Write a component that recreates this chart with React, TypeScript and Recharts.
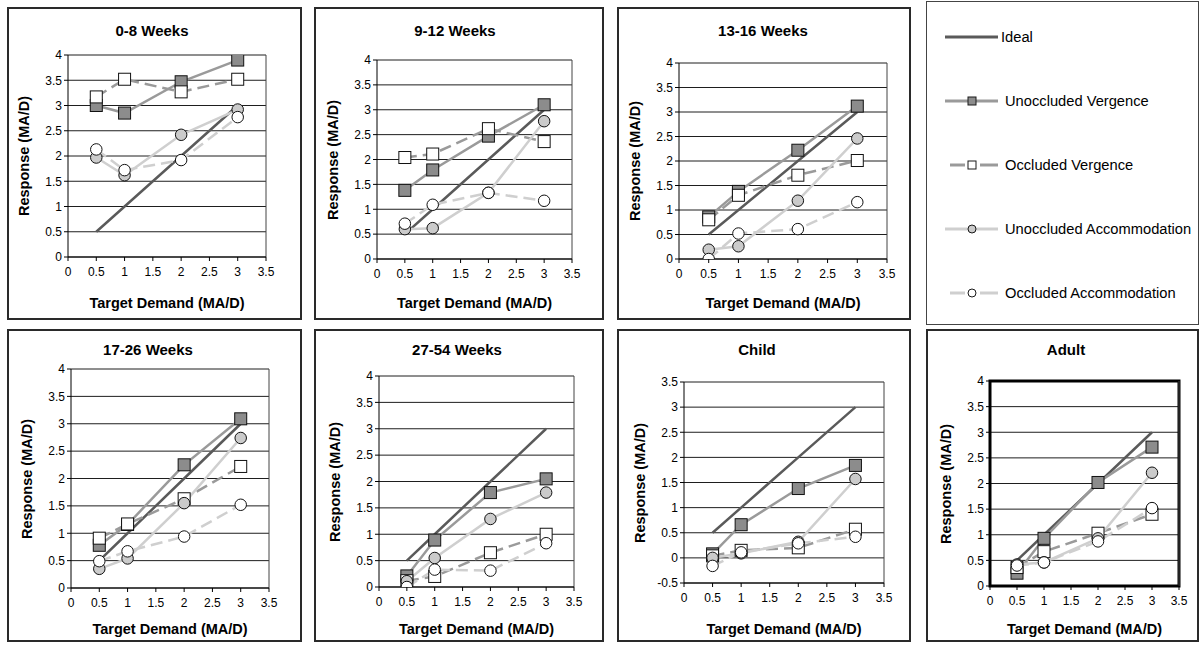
import React from 'react';
import { LineChart, Line, XAxis, YAxis, CartesianGrid, ReferenceLine, ReferenceArea } from 'recharts';

// ---------- data ----------
const demand = [0.5, 1, 2, 3];
const ideal = [0.5, 1, 2, 3];
const xTicks = [0, 0.5, 1, 1.5, 2, 2.5, 3, 3.5];
const yTicks = [0, 0.5, 1, 1.5, 2, 2.5, 3, 3.5, 4];
const yTicksChild = [-0.5, 0, 0.5, 1, 1.5, 2, 2.5, 3, 3.5];
const seriesNames = ['Ideal', 'Unoccluded Vergence', 'Occluded Vergence', 'Unoccluded Accommodation', 'Occluded Accommodation'];
const panelTitles = ['0-8 Weeks', '9-12 Weeks', '13-16 Weeks', '17-26 Weeks', '27-54 Weeks', 'Child', 'Adult'];
const xLabel = 'Target Demand (MA/D)';
const yLabel = 'Response (MA/D)';

const uv_0_8 = [3.0, 2.85, 3.47, 3.9];
const ov_0_8 = [3.17, 3.52, 3.27, 3.52];
const ua_0_8 = [1.97, 1.62, 2.42, 2.92];
const oa_0_8 = [2.13, 1.72, 1.92, 2.77];

const uv_9_12 = [1.38, 1.79, 2.47, 3.1];
const ov_9_12 = [2.04, 2.11, 2.62, 2.36];
const ua_9_12 = [0.6, 0.62, 1.33, 2.77];
const oa_9_12 = [0.71, 1.09, 1.33, 1.17];

const uv_13_16 = [0.86, 1.38, 2.22, 3.12];
const ov_13_16 = [0.8, 1.3, 1.71, 2.01];
const ua_13_16 = [0.19, 0.26, 1.19, 2.46];
const oa_13_16 = [0.0, 0.52, 0.61, 1.16];

const uv_17_26 = [0.78, 1.16, 2.25, 3.09];
const ov_17_26 = [0.91, 1.17, 1.63, 2.22];
const ua_17_26 = [0.35, 0.54, 1.55, 2.74];
const oa_17_26 = [0.49, 0.67, 0.94, 1.52];

const uv_27_54 = [0.21, 0.89, 1.79, 2.05];
const ov_27_54 = [0.12, 0.2, 0.65, 1.0];
const ua_27_54 = [0.11, 0.55, 1.29, 1.79];
const oa_27_54 = [0.0, 0.33, 0.31, 0.83];

const uv_child = [0.08, 0.66, 1.38, 1.84];
const ov_child = [0.04, 0.15, 0.2, 0.57];
const ua_child = [0.0, 0.09, 0.32, 1.57];
const oa_child = [-0.16, 0.11, 0.29, 0.42];

const uv_adult = [0.25, 0.93, 2.02, 2.71];
const ov_adult = [0.36, 0.67, 1.03, 1.4];
const ua_adult = [0.42, 0.46, 0.93, 2.21];
const oa_adult = [0.4, 0.46, 0.87, 1.52];

const panelSeries = [
  [uv_0_8, ov_0_8, ua_0_8, oa_0_8],
  [uv_9_12, ov_9_12, ua_9_12, oa_9_12],
  [uv_13_16, ov_13_16, ua_13_16, oa_13_16],
  [uv_17_26, ov_17_26, ua_17_26, oa_17_26],
  [uv_27_54, ov_27_54, ua_27_54, oa_27_54],
  [uv_child, ov_child, ua_child, oa_child],
  [uv_adult, ov_adult, ua_adult, oa_adult],
];

// ---------- layout (page coords) ----------
type Box = { x: number; y: number; w: number; h: number };
type Plot = { l: number; t: number; r: number; b: number };
const layouts: { box: Box; plot: Plot; titleX: number; titleY: number; xLabY: number; child?: boolean; adult?: boolean }[] = [
  { box: { x: 7, y: 7, w: 295, h: 313 }, plot: { l: 68, t: 55, r: 266, b: 257 }, titleX: 152, titleY: 31, xLabY: 303 },
  { box: { x: 314, y: 7, w: 290, h: 313 }, plot: { l: 377, t: 60, r: 572, b: 259 }, titleX: 455, titleY: 31, xLabY: 303 },
  { box: { x: 617, y: 7, w: 294, h: 313 }, plot: { l: 679, t: 63, r: 887, b: 259 }, titleX: 763, titleY: 31, xLabY: 303 },
  { box: { x: 7, y: 329, w: 295, h: 313 }, plot: { l: 71, t: 369, r: 269, b: 588 }, titleX: 148, titleY: 350, xLabY: 629 },
  { box: { x: 314, y: 329, w: 290, h: 313 }, plot: { l: 379, t: 376, r: 574, b: 587 }, titleX: 457, titleY: 350, xLabY: 629 },
  { box: { x: 617, y: 329, w: 294, h: 313 }, plot: { l: 684, t: 382, r: 884, b: 583 }, titleX: 757, titleY: 350, xLabY: 629, child: true },
  { box: { x: 926, y: 329, w: 273, h: 313 }, plot: { l: 990, t: 381, r: 1179, b: 586 }, titleX: 1066, titleY: 350, xLabY: 629, adult: true },
];
const legendBox: Box = { x: 926, y: 1, w: 273, h: 324 };

const FONT = '"Liberation Sans", Arial, Helvetica, sans-serif';
const Y_AXIS_W = 30;
const X_AXIS_H = 20;

const styles = [
  { key: 'ideal', stroke: '#5a5a5a', width: 2.5, dash: undefined as string | undefined, marker: 'none', fill: '' },
  { key: 'uv', stroke: '#9a9a9a', width: 2.5, dash: undefined, marker: 'square', fill: '#8c8c8c' },
  { key: 'ov', stroke: '#9a9a9a', width: 2.5, dash: '12 6', marker: 'square', fill: '#ffffff' },
  { key: 'ua', stroke: '#cfcfcf', width: 2.5, dash: undefined, marker: 'circle', fill: '#cbcbcb' },
  { key: 'oa', stroke: '#cfcfcf', width: 2.5, dash: '12 6', marker: 'circle', fill: '#ffffff' },
];

const makeDot = (marker: string, fill: string, size: number) => (props: any) => {
  const { cx, cy, index, dataKey } = props;
  const k = `${dataKey}-${index}`;
  if (cx == null || cy == null) return <g key={k} />;
  if (marker === 'square') {
    return <rect key={k} x={cx - size / 2} y={cy - size / 2} width={size} height={size} fill={fill} stroke="#111" strokeWidth={1} />;
  }
  return <circle key={k} cx={cx} cy={cy} r={size / 2} fill={fill} stroke="#111" strokeWidth={1} />;
};

function Panel({ idx }: { idx: number }) {
  const L = layouts[idx];
  const s = panelSeries[idx];
  const data = demand.map((x, i) => ({ x, ideal: ideal[i], uv: s[0][i], ov: s[1][i], ua: s[2][i], oa: s[3][i] }));
  const { box, plot } = L;
  const margin = {
    left: plot.l - box.x - Y_AXIS_W,
    top: plot.t - box.y,
    right: box.x + box.w - plot.r,
    bottom: box.y + box.h - plot.b - X_AXIS_H,
  };
  const ticks = L.child ? yTicksChild : yTicks;
  const domain: [number, number] = L.child ? [-0.5, 3.5] : [0, 4];
  const cx = (plot.l + plot.r) / 2;
  const cy = (plot.t + plot.b) / 2;
  return (
    <>
      <div style={{ position: 'absolute', left: box.x, top: box.y, width: box.w, height: box.h, boxSizing: 'border-box', border: '2px solid #2a2a2a' }} />
      <div style={{ position: 'absolute', left: box.x, top: box.y }}>
        <LineChart width={box.w} height={box.h} data={data} margin={margin}>
          <CartesianGrid horizontal={true} vertical={false} stroke="#1e1e1e" strokeWidth={1} />
          <ReferenceLine x={3.5} stroke="#444" strokeWidth={1} />
          {L.adult && (
            <ReferenceArea x1={0} x2={3.5} y1={0} y2={4} fill="none" fillOpacity={0} stroke="#000" strokeWidth={3} ifOverflow="visible" />
          )}
          <XAxis
            type="number"
            dataKey="x"
            domain={[0, 3.5]}
            ticks={xTicks}
            interval={0}
            height={X_AXIS_H}
            tickSize={4}
            tickMargin={6}
            axisLine={{ stroke: '#000' }}
            tickLine={{ stroke: '#000' }}
            tick={{ fill: '#000', fontSize: 12, fontFamily: FONT }}
            allowDataOverflow
          />
          <YAxis
            type="number"
            domain={domain}
            ticks={ticks}
            interval={0}
            width={Y_AXIS_W}
            tickSize={4}
            tickMargin={2}
            axisLine={{ stroke: '#000' }}
            tickLine={{ stroke: '#000' }}
            tick={{ fill: '#000', fontSize: 12, fontFamily: FONT }}
            allowDataOverflow
          />
          {styles.map((st, si) => (
            <Line
              key={st.key}
              type="linear"
              dataKey={st.key}
              name={seriesNames[si]}
              stroke={st.stroke}
              strokeWidth={st.width}
              strokeDasharray={st.dash}
              dot={st.marker === 'none' ? false : makeDot(st.marker, st.fill, st.marker === 'square' ? 12 : 11.5)}
              activeDot={false}
              isAnimationActive={false}
            />
          ))}
        </LineChart>
      </div>
      <div style={{ position: 'absolute', left: L.titleX - 100, top: L.titleY - 9, width: 200, lineHeight: '18px', textAlign: 'center', fontFamily: FONT, fontWeight: 'bold', fontSize: 15, color: '#000' }}>
        {panelTitles[idx]}
      </div>
      <div style={{ position: 'absolute', left: cx - 120, top: L.xLabY - 9, width: 240, lineHeight: '18px', textAlign: 'center', fontFamily: FONT, fontWeight: 'bold', fontSize: 14.5, color: '#000' }}>
        {xLabel}
      </div>
      <div style={{ position: 'absolute', left: plot.l - 44, top: cy, transform: 'translate(-50%, -50%) rotate(-90deg)', whiteSpace: 'nowrap', lineHeight: '18px', fontFamily: FONT, fontWeight: 'bold', fontSize: 14.5, color: '#000' }}>
        {yLabel}
      </div>
    </>
  );
}

function LegendPanel() {
  const b = legendBox;
  const rows = [37, 101, 165, 229, 293];
  return (
    <>
      <div style={{ position: 'absolute', left: b.x, top: b.y, width: b.w, height: b.h, boxSizing: 'border-box', border: '1px solid #444' }} />
      <svg style={{ position: 'absolute', left: 0, top: 0 }} width={1201} height={330}>
        {styles.map((st, i) => {
          const y = rows[i];
          const x0 = st.dash ? 950 : 945;
          const x1 = 998;
          const mx = 972;
          return (
            <g key={st.key}>
              {st.dash ? (
                <>
                  <line x1={x0} y1={y} x2={mx - 7} y2={y} stroke={st.stroke} strokeWidth={3} />
                  <line x1={mx + 8} y1={y} x2={x1} y2={y} stroke={st.stroke} strokeWidth={3} />
                </>
              ) : (
                <line x1={x0} y1={y} x2={x1} y2={y} stroke={st.stroke} strokeWidth={3} />
              )}
              {st.marker === 'square' && <rect x={mx - 4} y={y - 4} width={8} height={8} fill={st.fill} stroke="#1a1a1a" strokeWidth={1} />}
              {st.marker === 'circle' && <circle cx={mx} cy={y} r={4} fill={st.fill} stroke="#1a1a1a" strokeWidth={1} />}
              <text x={i === 0 ? 1001 : 1005} y={y} dy="0.35em" fontFamily={FONT} fontSize={14.7} fill="#000">
                {seriesNames[i]}
              </text>
            </g>
          );
        })}
      </svg>
    </>
  );
}

export default function App() {
  return (
    <div style={{ position: 'absolute', left: 0, top: 0, width: 1201, height: 647, background: '#fff', overflow: 'hidden' }}>
      {layouts.map((_, i) => (
        <Panel key={i} idx={i} />
      ))}
      <LegendPanel />
    </div>
  );
}
